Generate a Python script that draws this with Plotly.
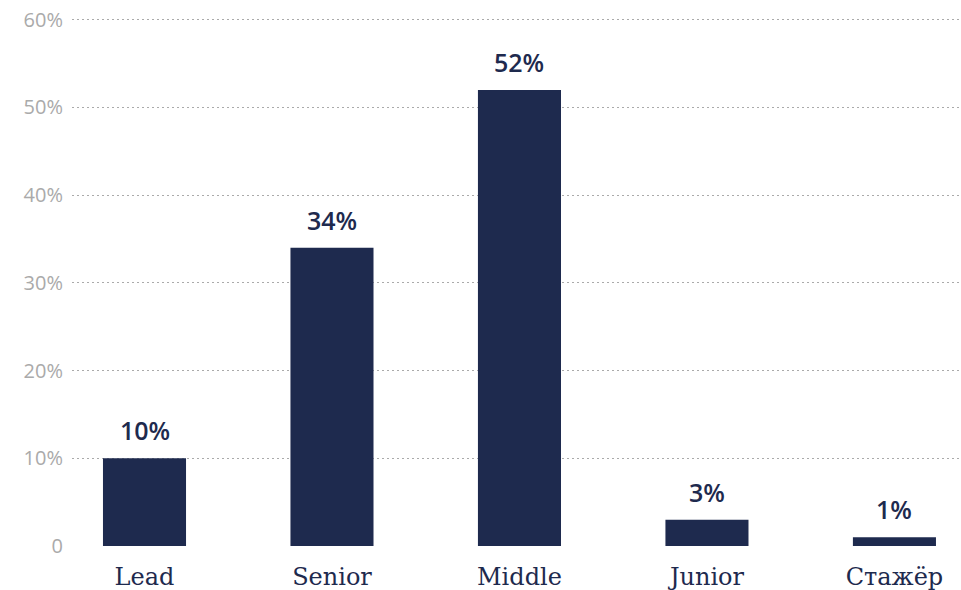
import plotly.graph_objects as go

categories = ["Lead", "Senior", "Middle", "Junior", "Стажёр"]
values = [10, 34, 52, 3, 1]
tick_vals = [0, 10, 20, 30, 40, 50, 60]
tick_text = ["0", "10%", "20%", "30%", "40%", "50%", "60%"]

navy = "#1e2a4e"
xs = list(range(len(categories)))

fig = go.Figure(go.Bar(
    x=xs,
    y=values,
    width=0.443,
    marker=dict(color=navy, line=dict(width=0)),
    cliponaxis=False,
    hoverinfo="skip",
))

for x, v in zip(xs, values):
    fig.add_annotation(
        x=x, y=v, text=f"{v}%", showarrow=False,
        yanchor="bottom", yshift=9,
        font=dict(family="Open Sans, sans-serif", size=25, color=navy, weight=600),
    )

fig.update_layout(
    width=961, height=590,
    margin=dict(l=72, r=0, t=18, b=44, autoexpand=False),
    paper_bgcolor="white", plot_bgcolor="white",
    showlegend=False,
)
fig.update_xaxes(
    range=[-0.3867, 4.355],
    tickmode="array", tickvals=xs, ticktext=categories,
    tickfont=dict(family="DejaVu Serif, serif", size=24, color=navy),
    ticklabelstandoff=14,
    showgrid=False, zeroline=False, showline=False, ticks="",
)
fig.update_yaxes(
    range=[0, 60.2],
    tickmode="array", tickvals=tick_vals, ticktext=tick_text,
    tickfont=dict(family="Open Sans, sans-serif", size=20, color="#aaaaaa"),
    ticklabelstandoff=8, ticklabeloverflow="allow",
    showgrid=True, gridcolor="#aaaaaa", griddash="2px,3px", gridwidth=1,
    zeroline=False, showline=False, ticks="",
)

fig.write_html(
    "out.html",
    config={"displayModeBar": False, "staticPlot": True},
    post_script="document.body.style.margin='0';",
)
